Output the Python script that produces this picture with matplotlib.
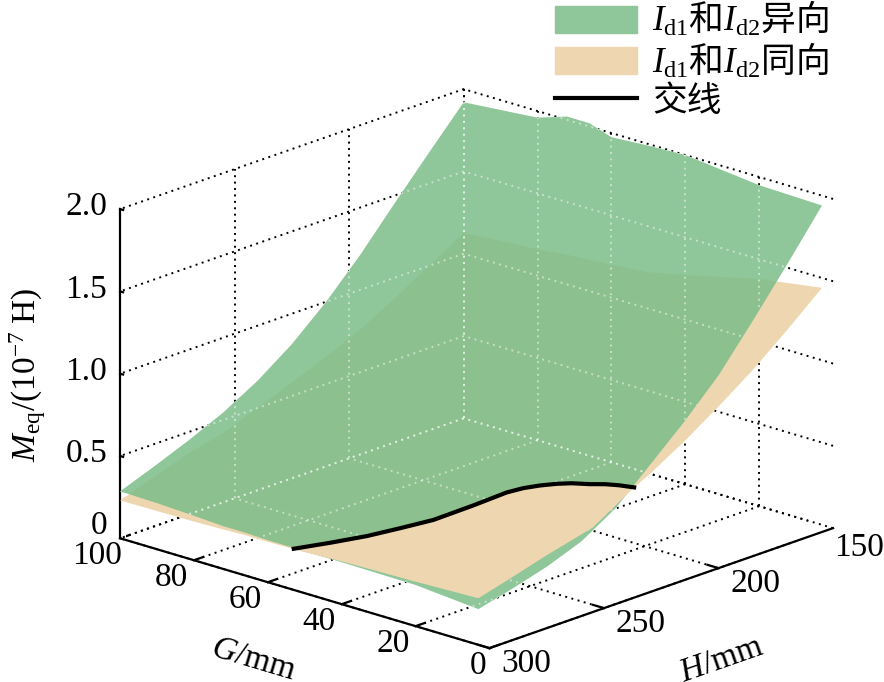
import matplotlib
matplotlib.use('Agg')
import matplotlib.pyplot as plt
from matplotlib.patches import Patch, Polygon
from matplotlib.lines import Line2D
from mpl_toolkits.mplot3d import proj3d
from mpl_toolkits.mplot3d.art3d import Poly3DCollection

plt.rcParams['font.family'] = ['Liberation Serif', 'Noto Sans CJK SC']
# mathtext has no font fallback list, so cal = upright serif, it = italic serif
plt.rcParams['mathtext.fontset'] = 'custom'
plt.rcParams['mathtext.rm'] = 'Liberation Serif'
plt.rcParams['mathtext.cal'] = 'Liberation Serif'
plt.rcParams['mathtext.it'] = 'Liberation Serif:italic'
dots = (0, (1, 2.3))
plt.rcParams['grid.linestyle'] = dots
plt.rcParams['grid.color'] = 'k'
plt.rcParams['grid.linewidth'] = 1.4

G_ticks = [100, 80, 60, 40, 20, 0]
H_ticks = [300, 250, 200, 150]
M_ticks = [0, 0.5, 1.0, 1.5, 2.0]
M_labels = ['0', '0.5', '1.0', '1.5', '2.0']

# edges of the two surfaces
H_edge = [300, 285, 270, 255, 240, 225, 210, 195, 180, 165, 150]
G_edge = [3, 20, 40, 50, 60, 66, 72, 80, 90, 100]
green_G100 = [0.285, 0.365, 0.45, 0.545, 0.665, 0.815, 1.00, 1.215, 1.455, 1.69, 1.92]
green_G3 = [0.217, 0.27, 0.33, 0.41, 0.54, 0.73, 0.92, 1.13, 1.39, 1.66, 1.94]
green_H150 = [1.94, 1.95, 2.00, 1.99, 1.975, 2.02, 2.02, 1.96, 1.94, 1.92]
green_H300 = [0.217, 0.25, 0.255, 0.255, 0.255, 0.26, 0.26, 0.27, 0.28, 0.285]
beige_G100 = [0.23, 0.30, 0.37, 0.42, 0.50, 0.58, 0.665, 0.76, 0.875, 1.00, 1.125]
beige_G3 = [0.283, 0.34, 0.40, 0.47, 0.57, 0.675, 0.80, 0.94, 1.09, 1.26, 1.44]
beige_H150 = [1.44, 1.38, 1.27, 1.22, 1.20, 1.19, 1.18, 1.16, 1.145, 1.125]
beige_H300 = [0.283, 0.27, 0.26, 0.25, 0.245, 0.245, 0.24, 0.235, 0.232, 0.23]

# intersection line
cross_G = [53, 50, 45, 40, 35, 28, 22, 20, 18, 16, 15, 12, 9, 6, 3]
cross_H = [300, 289.1, 281, 274.7, 268, 262, 257, 253, 249, 245, 240, 237, 235, 233.7, 232]
cross_M = [0.25, 0.253, 0.288, 0.338, 0.39, 0.495, 0.59, 0.61, 0.62, 0.624, 0.61, 0.61, 0.62, 0.627, 0.626]

# where the beige surface lies on top, from the end of the line round the front corner
front_H = [250, 270, 285, 300]
front_beige = [0.47, 0.40, 0.34, 0.283]
front_G = [20, 40, 50]
front_beige_g = [0.27, 0.26, 0.25]


def outline(z_g100, z_g3, z_h150, z_h300):
    # one closed polygon round the surface
    v = []
    for h, z in zip(H_edge, z_g100):
        v.append((100, h, z))
    for g, z in zip(G_edge[::-1][1:], z_h150[::-1][1:]):
        v.append((g, 150, z))
    for h, z in zip(H_edge[::-1][1:], z_g3[::-1][1:]):
        v.append((3, h, z))
    for g, z in zip(G_edge[1:-1], z_h300[1:-1]):
        v.append((g, 300, z))
    return v


def tick_label(g, h, m, s, ha='center'):
    # plain 2D text at the projected place of a 3D point
    x, y, _ = proj3d.proj_transform(g, h, m, ax.get_proj())
    ax.text2D(x, y, s, transform=ax.transData, fontsize=24, ha=ha, va='center', clip_on=False)


fig = plt.figure(figsize=(8.84, 6.82), dpi=100)
ax = fig.add_axes([0.0287, -0.054, 1, 1], projection='3d', computed_zorder=False)
ax.set_proj_type('ortho')
ax.view_init(elev=18.8, azim=-47.3)
ax.set_box_aspect((503, 507, 348), zoom=1.13)
ax.set_xlim(100, 0, view_margin=0)
ax.set_ylim(300, 150, view_margin=0)
ax.set_zlim(0, 2, view_margin=0)

# G and H ticks, grid and all tick labels are drawn by hand below, the native pad cannot place them
ax.set_xticks([])
ax.set_yticks([])
ax.set_zticks(M_ticks)
ax.set_zticklabels([])
for a in (ax.xaxis, ax.yaxis, ax.zaxis):
    a.set_pane_color((1, 1, 1, 0))
    a.pane.set_edgecolor((1, 1, 1, 0))
    a.line.set_color('k')
    a.line.set_linewidth(1.6)
    a._axinfo['tick']['inward_factor'] = 0.1
    a._axinfo['tick']['outward_factor'] = 0.0
    a._axinfo['tick']['linewidth'] = {True: 1.6, False: 1.0}
ax.zaxis.set_ticks_position('upper')
ax.zaxis.set_label_position('upper')

grid_GH = []
for g in G_ticks:
    grid_GH += [([g, g], [150, 300], [0, 0]), ([g, g], [150, 150], [0, 2])]
    ax.plot([g, g], [300, 296], [0, 0], color='k', lw=1.6, zorder=0)
for h in H_ticks:
    grid_GH += [([0, 100], [h, h], [0, 0]), ([100, 100], [h, h], [0, 2])]
    ax.plot([0, 3], [h, h], [0, 0], color='k', lw=1.6, zorder=0)
for p in grid_GH:
    ax.plot(*p, ls=dots, color='k', lw=1.4, zorder=0)

for h in H_ticks:
    if h == 150:
        tick_label(-7, h, -0.075, str(h))
    else:
        tick_label(-10, h, -0.03, str(h))
for g in G_ticks:
    if g == 0:
        tick_label(g, 305, -0.08, str(g))
    else:
        tick_label(g, 310, -0.06, str(g))
for m, s in zip(M_ticks, M_labels):
    if m == 0:
        tick_label(103.5, 300, 0.05, s, ha='right')
    else:
        tick_label(103.5, 300, m - 0.012, s, ha='right')

ax.set_xlabel('$\\mathit{G}\\mathcal{/mm}$', fontsize=24, labelpad=17)
ax.set_ylabel('$\\mathit{H}\\mathcal{/mm}$', fontsize=24, labelpad=21)
ax.set_zlabel('$\\mathit{M}_{\\mathcal{eq}}\\mathcal{/(10}^{\\mathcal{-7}}\\mathcal{\\ H)}$', fontsize=24, labelpad=12)

green_v = outline(green_G100, green_G3, green_H150, green_H300)
beige_v = outline(beige_G100, beige_G3, beige_H150, beige_H300)

# white under the green so the black grid does not show through
ax.add_collection3d(Poly3DCollection([green_v], facecolor='white', edgecolor='none', zorder=1, clip_on=False))
ax.add_collection3d(Poly3DCollection([beige_v], facecolor='#EED7B0', edgecolor='none', zorder=2, clip_on=False))
ax.add_collection3d(Poly3DCollection([green_v], facecolor=(123 / 255, 188 / 255, 136 / 255, 0.85),
                                     edgecolor='none', zorder=3, clip_on=False))

# grid seen through the green surface comes out light
xs, ys, _ = proj3d.proj_transform(*zip(*green_v), ax.get_proj())
clip = Polygon(list(zip(xs, ys)), transform=ax.transData)
lines = list(grid_GH)
for m in M_ticks:
    lines += [([100, 100], [150, 300], [m, m]), ([0, 100], [150, 150], [m, m])]
for p in lines:
    ax.plot(*p, ls=dots, color='white', alpha=0.5, lw=1.4, zorder=4)[0].set_clip_path(clip)

# front part where the beige surface is on top
front = list(zip(cross_G, cross_H, cross_M))
front += [(3, h, z) for h, z in zip(front_H, front_beige)]
front += [(g, 300, z) for g, z in zip(front_G, front_beige_g)]
ax.add_collection3d(Poly3DCollection([front], facecolor='#EED7B0', edgecolor='none', zorder=5, clip_on=False))
ax.plot(cross_G, cross_H, cross_M, color='k', lw=3, zorder=6, clip_on=False)

handles = [Patch(color='#8FC69A'), Patch(color='#EED7B0'), Line2D([], [], color='k', lw=3)]
labels = ['$\\mathit{I}_{\\mathcal{d1}}$和$\\mathit{I}_{\\mathcal{d2}}$异向',
          '$\\mathit{I}_{\\mathcal{d1}}$和$\\mathit{I}_{\\mathcal{d2}}$同向', '交线']
fig.legend(handles, labels, loc='upper left', bbox_to_anchor=(0.628, 1.0), frameon=False,
           prop={'family': 'Noto Sans CJK SC', 'size': 25}, handlelength=2.35, handleheight=0.82,
           labelspacing=0.08, handletextpad=0.45, borderpad=0, borderaxespad=0)

fig.savefig('out.png', dpi=100)
